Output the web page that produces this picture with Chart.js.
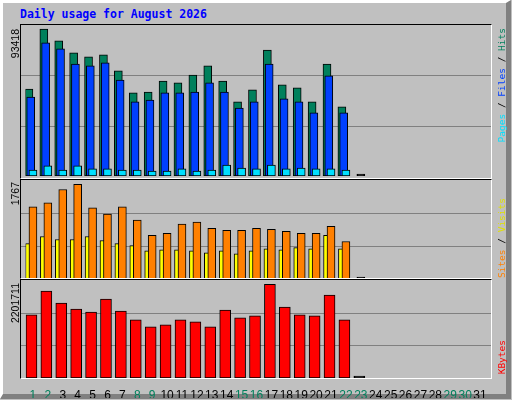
<!DOCTYPE html>
<html>
<head>
<meta charset="utf-8">
<script src="https://cdn.jsdelivr.net/npm/chart.js@4"></script>
<style>
  body { margin: 0; }
  #frame { position: relative; width: 512px; height: 400px; background: #c0c0c0; overflow: hidden; }
  #outer { position: absolute; left: 0; top: 0; width: 503px; height: 391px; border: 1px solid #000;
           border-top: 3px solid #fff; border-left: 3px solid #fff; border-right: 5px solid #808080; border-bottom: 5px solid #808080; }
  .panel { position: absolute; left: 20px; width: 470px; border-top: 1px solid #000; border-left: 1px solid #000;
           border-right: 1px solid #fff; border-bottom: 1px solid #fff; pointer-events: none; }
  canvas { position: absolute; }
  .vtext { position: absolute; writing-mode: vertical-rl; transform: rotate(180deg); white-space: nowrap; }
  .ylab { font: 10.5px "Liberation Sans", sans-serif; color: #000; left: 9px; }
  .rlab { font: 9.5px "DejaVu Sans Mono", monospace; left: 496px; }
  #title { position: absolute; left: 20px; top: 7px; font: bold 11.5px "DejaVu Sans Mono", monospace; color: #0000ff; }
</style>
</head>
<body>
<div id="frame">
  <div id="outer"></div>
  <div id="title">Daily usage for August 2026</div>

  <canvas id="c1" width="471" height="153" style="left:21px;top:25px"></canvas>
  <canvas id="c2" width="471" height="100" style="left:21px;top:180px"></canvas>
  <canvas id="c3" width="471" height="118" style="left:21px;top:280px"></canvas>

  <div class="panel" style="top:24px;height:153px"></div>
  <div class="panel" style="top:179px;height:98px"></div>
  <div class="panel" style="top:279px;height:98px"></div>

  <div class="vtext ylab" style="top:29px">93418</div>
  <div class="vtext ylab" style="top:182px">1767</div>
  <div class="vtext ylab" style="top:283px">2201711</div>

  <div class="vtext rlab" style="top:28px"><span style="color:#00e0ff">Pages</span> / <span style="color:#0040ff">Files</span> / <span style="color:#00805c">Hits</span></div>
  <div class="vtext rlab" style="top:198px"><span style="color:#ff8000">Sites</span> / <span style="color:#e0e000">Visits</span></div>
  <div class="vtext rlab" style="top:340px"><span style="color:#ff0000">KBytes</span></div>
</div>

<script>
// Days of the month
const days = Array.from({ length: 31 }, (_, i) => String(i + 1));
const weekendDays = [1, 2, 8, 9, 15, 16, 22, 23, 29, 30];

// Daily values (days 1..23, 23 is the empty current day)
const hits = [55300, 93418, 85900, 78200, 75700, 77000, 66800, 52800, 53400, 60400, 59200, 64200,
              70000, 60400, 47100, 54700, 80100, 57900, 56000, 47100, 71200, 43900, 0];
const files = [50200, 84600, 80800, 71200, 70000, 71900, 61000, 47100, 48300, 52800, 52800, 53400,
               59200, 53400, 43200, 47100, 71200, 49000, 47100, 40100, 63600, 40100, 0];
const pages = [3800, 6400, 3800, 6400, 4500, 4500, 3800, 3800, 3200, 3200, 4500, 3200,
               3800, 7000, 5100, 4500, 7000, 4500, 5100, 4500, 4500, 3800, 0];
const sites = [1348, 1424, 1672, 1767, 1329, 1214, 1348, 1100, 814, 852, 1024, 1062,
               947, 909, 909, 947, 928, 890, 852, 852, 985, 700, 0];
const visits = [661, 795, 738, 738, 795, 719, 661, 623, 528, 547, 547, 528,
                490, 528, 471, 528, 566, 547, 585, 566, 814, 566, 0];
const kbytes = [1481000, 2039000, 1760000, 1620000, 1551000, 1853000, 1574000, 1365000, 1202000, 1248000, 1365000, 1318000,
                1202000, 1597000, 1411000, 1458000, 2201711, 1667000, 1481000, 1458000, 1946000, 1365000, 0];

// Axis tops for each panel
const hitsMax = 95960;
const sitesMax = 1850;
const kbytesMax = 2301700;

function points(values, shift) {
    return values.map((v, i) => ({ x: i + 1 + shift, y: v }));
}

function barSet(values, shift, color, width, order) {
    return {
        data: points(values, shift),
        backgroundColor: ctx => (ctx.raw && ctx.raw.y === 0 ? '#000' : color),
        borderColor: '#000',
        borderWidth: 1,
        borderSkipped: false,
        barThickness: width,
        grouped: false,
        order: order
    };
}

// Horizontal grid lines at 1/3 and 2/3 across the whole panel
const thirdsGrid = {
    id: 'thirdsGrid',
    beforeDatasetsDraw(chart, args, opts) {
        const c = chart.ctx;
        const y = chart.scales.y;
        c.save();
        c.strokeStyle = '#808080';
        c.lineWidth = 1;
        [1, 2].forEach(k => {
            const py = Math.round(y.getPixelForValue(opts.max * k / 3)) + 0.5;
            c.beginPath();
            c.moveTo(0, py);
            c.lineTo(chart.width, py);
            c.stroke();
        });
        c.restore();
    }
};

function makeChart(id, datasets, max, showDays, padBottom) {
    const scales = {
        x: { type: 'linear', min: 0.5, max: 31.5, offset: false, display: false },
        y: { min: 0, max: max, display: false }
    };
    if (showDays) {
        scales.days = {
            type: 'category',
            labels: days,
            offset: true,
            position: 'bottom',
            grid: { display: false },
            border: { display: false },
            ticks: {
                padding: 2,
                maxRotation: 0,
                autoSkip: false,
                font: { family: 'Liberation Sans', size: 12 },
                color: ctx => (weekendDays.includes(ctx.index + 1) ? '#00805c' : '#000')
            },
            afterFit: s => { s.height = 20; }
        };
    }
    new Chart(document.getElementById(id), {
        type: 'bar',
        data: { datasets: datasets },
        options: {
            responsive: false,
            animation: false,
            events: [],
            layout: { padding: { left: 4.5, right: 4.5, top: 0, bottom: padBottom } },
            scales: scales,
            plugins: { legend: { display: false }, tooltip: { enabled: false }, thirdsGrid: { max: max } }
        },
        plugins: [thirdsGrid]
    });
}

const p3 = barSet(pages, 0, '#00e0ff', 8, 0);
p3.minBarLength = 2;
makeChart('c1', [
    p3,
    barSet(files, -0.15, '#0040ff', 8, 1),
    barSet(hits, -0.27, '#00805c', 8, 2)
], hitsMax, false, 2);

const s3 = barSet(sites, 0, '#ff8000', 8, 0);
s3.minBarLength = 2;
makeChart('c2', [
    s3,
    barSet(visits, -0.3, '#ffff00', 6, 1)
], sitesMax, false, 1);

const k3 = barSet(kbytes, -0.1, '#ff0000', 11, 0);
k3.minBarLength = 2;
makeChart('c3', [k3], kbytesMax, true, 0);
</script>
</body>
</html>
